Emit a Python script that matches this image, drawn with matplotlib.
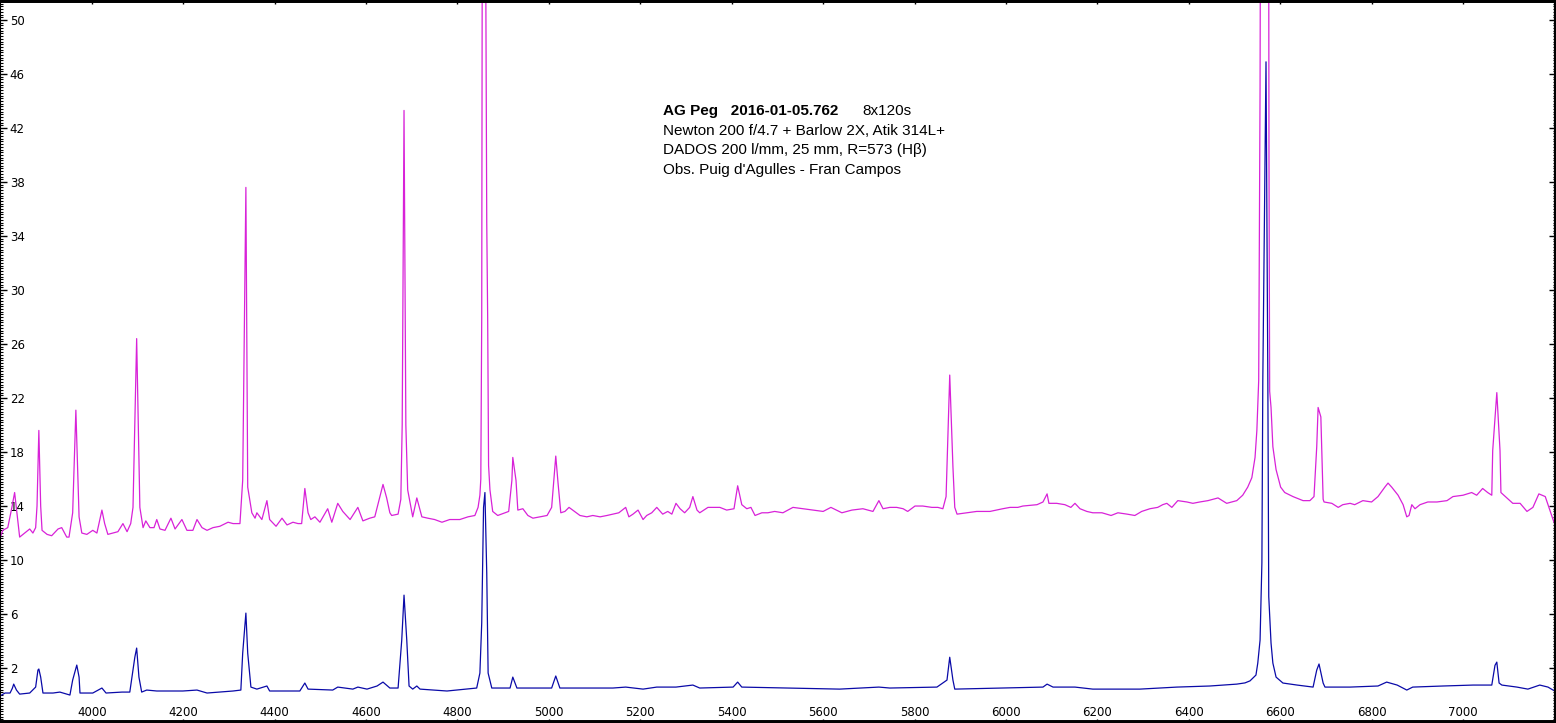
import matplotlib
matplotlib.use("Agg")
import matplotlib.pyplot as plt
from matplotlib.ticker import MultipleLocator

# AG Peg spectrum
wl_mag = [3799, 3805, 3816, 3825, 3831, 3836, 3842, 3853, 3864, 3871, 3877, 3880, 3884, 3888, 3891,
          3902, 3912, 3926, 3934, 3945, 3950, 3958, 3965, 3972, 3978, 3989, 4002, 4011, 4022, 4028,
          4035, 4046, 4057, 4068, 4077, 4085, 4090, 4098, 4105, 4112, 4118, 4127, 4136, 4142, 4149,
          4160, 4173, 4182, 4197, 4208, 4221, 4230, 4241, 4252, 4265, 4280, 4298, 4309, 4324, 4330,
          4337, 4341, 4350, 4357, 4361, 4372, 4383, 4389, 4403, 4416, 4427, 4440, 4451, 4459, 4466,
          4473, 4479, 4488, 4499, 4516, 4525, 4538, 4549, 4565, 4582, 4593, 4608, 4619, 4628, 4637,
          4645, 4652, 4656, 4670, 4676, 4679, 4683, 4687, 4691, 4702, 4711, 4722, 4735, 4750, 4766,
          4783, 4805, 4823, 4838, 4845, 4849, 4851, 4853, 4854, 4858, 4862, 4864, 4866, 4868, 4871,
          4877, 4888, 4904, 4912, 4919, 4921, 4928, 4932, 4943, 4954, 4965, 4980, 4996, 5006, 5015,
          5020, 5026, 5035, 5044, 5052, 5068, 5083, 5096, 5112, 5127, 5140, 5153, 5168, 5175, 5184,
          5195, 5206, 5214, 5225, 5236, 5249, 5260, 5269, 5278, 5287, 5297, 5308, 5315, 5324, 5330,
          5348, 5359, 5374, 5389, 5405, 5413, 5422, 5433, 5442, 5451, 5466, 5479, 5494, 5512, 5534,
          5556, 5578, 5600, 5617, 5641, 5663, 5687, 5709, 5722, 5731, 5746, 5761, 5775, 5785, 5801,
          5818, 5838, 5851, 5862, 5869, 5871, 5877, 5884, 5888, 5893, 5914, 5936, 5965, 5993, 6009,
          6026, 6037, 6068, 6081, 6090, 6094, 6111, 6129, 6142, 6151, 6162, 6177, 6190, 6210, 6230,
          6245, 6265, 6282, 6297, 6315, 6332, 6343, 6352, 6363, 6376, 6396, 6409, 6424, 6442, 6464,
          6483, 6505, 6518, 6529, 6538, 6545, 6549, 6553, 6556, 6559, 6566, 6572, 6574, 6575.5, 6577,
          6580, 6584, 6591, 6601, 6610, 6628, 6650, 6665, 6674, 6680, 6683, 6689, 6694, 6696, 6713,
          6727, 6737, 6753, 6763, 6781, 6800, 6814, 6829, 6836, 6844, 6858, 6869, 6877, 6882, 6888,
          6895, 6906, 6923, 6943, 6965, 6978, 7000, 7019, 7030, 7043, 7054, 7063, 7065, 7074, 7081,
          7083, 7096, 7109, 7125, 7140, 7153, 7166, 7180, 7188, 7197, 7204]
fl_mag = [11.6, 12.2, 12.4, 13.9, 15.0, 13.5, 11.7, 12.0, 12.3, 12.0, 12.4, 14.0, 19.6, 14.0, 12.2,
          11.9, 11.8, 12.3, 12.4, 11.7, 11.7, 13.5, 21.1, 13.2, 12.0, 11.9, 12.2, 12.0, 13.7, 12.7,
          11.9, 12.0, 12.1, 12.7, 12.1, 12.7, 13.9, 26.4, 13.9, 12.4, 12.9, 12.4, 12.4, 13.0, 12.3,
          12.2, 13.1, 12.3, 13.0, 12.2, 12.2, 13.0, 12.4, 12.2, 12.4, 12.5, 12.8, 12.7, 12.7, 15.9,
          37.6, 15.4, 13.5, 13.1, 13.5, 13.0, 14.4, 13.0, 12.5, 13.1, 12.6, 12.8, 12.7, 12.7, 15.3,
          13.5, 13.0, 13.2, 12.8, 13.8, 12.8, 14.2, 13.6, 13.0, 13.9, 12.9, 13.1, 13.2, 14.4, 15.6,
          14.6, 13.5, 13.3, 13.4, 14.5, 20.0, 43.3, 20.0, 15.2, 13.2, 14.6, 13.2, 13.1, 13.0, 12.8,
          13.0, 13.0, 13.2, 13.3, 13.9, 14.8, 16.0, 28.0, 52.0, 80.0, 52.0, 35.0, 28.0, 17.0, 15.2,
          13.6, 13.3, 13.5, 13.6, 15.9, 17.6, 15.9, 13.7, 13.8, 13.3, 13.1, 13.2, 13.3, 13.9, 17.7,
          15.7, 13.5, 13.6, 13.9, 13.7, 13.3, 13.2, 13.3, 13.2, 13.3, 13.4, 13.5, 13.9, 13.2, 13.4,
          13.7, 13.0, 13.3, 13.5, 13.9, 13.4, 13.6, 13.4, 14.2, 13.8, 13.5, 13.9, 14.7, 13.7, 13.5,
          13.9, 13.9, 13.9, 13.7, 13.8, 15.5, 14.1, 13.8, 13.9, 13.3, 13.5, 13.5, 13.6, 13.5, 13.9,
          13.8, 13.7, 13.6, 13.9, 13.5, 13.7, 13.8, 13.6, 14.4, 13.8, 13.9, 13.9, 13.8, 13.6, 14.0,
          14.0, 13.9, 13.9, 13.8, 14.7, 16.9, 23.7, 16.9, 13.9, 13.4, 13.5, 13.6, 13.6, 13.8, 13.9,
          13.9, 14.0, 14.1, 14.3, 14.9, 14.2, 14.2, 14.1, 13.9, 14.2, 13.8, 13.6, 13.5, 13.5, 13.3,
          13.5, 13.4, 13.3, 13.6, 13.8, 13.9, 14.1, 14.2, 13.9, 14.4, 14.3, 14.2, 14.3, 14.4, 14.6,
          14.2, 14.4, 14.8, 15.4, 16.1, 17.6, 19.6, 23.3, 45.0, 90.0, 210.0, 150.0, 80.0, 40.0, 22.5,
          21.3, 18.4, 16.7, 15.4, 15.0, 14.7, 14.4, 14.4, 14.7, 18.4, 21.3, 20.6, 14.5, 14.3, 14.2,
          13.9, 14.1, 14.2, 14.1, 14.4, 14.3, 14.7, 15.4, 15.7, 15.4, 14.8, 14.1, 13.2, 13.3, 14.1,
          13.8, 14.1, 14.3, 14.3, 14.4, 14.7, 14.8, 15.0, 14.8, 15.3, 15.0, 14.8, 18.1, 22.4, 18.1,
          15.0, 14.6, 14.2, 14.2, 13.6, 13.9, 14.9, 14.7, 13.9, 13.0, 12.4]

wl_blue = [3799, 3810, 3821, 3826, 3829, 3835, 3842, 3864, 3877, 3882, 3884, 3888, 3893, 3915, 3930,
           3952, 3958, 3967, 3972, 3974, 4002, 4022, 4031, 4066, 4083, 4094, 4098, 4103, 4109, 4120,
           4142, 4173, 4199, 4230, 4252, 4309, 4326, 4330, 4337, 4341, 4348, 4361, 4383, 4389, 4455,
           4466, 4473, 4527, 4538, 4571, 4582, 4602, 4624, 4637, 4652, 4670, 4678, 4683, 4689, 4694,
           4702, 4711, 4718, 4777, 4842, 4849, 4853, 4857, 4860, 4864, 4867, 4875, 4915, 4921, 4930,
           5006, 5015, 5024, 5140, 5168, 5206, 5236, 5278, 5315, 5330, 5403, 5413, 5422, 5527, 5636,
           5722, 5746, 5849, 5871, 5877, 5884, 5888, 5993, 6081, 6090, 6103, 6151, 6190, 6293, 6374,
           6446, 6505, 6523, 6534, 6547, 6551, 6556, 6560, 6562, 6569, 6573, 6575, 6580, 6584, 6591,
           6606, 6637, 6672, 6680, 6685, 6694, 6698, 6753, 6814, 6833, 6856, 6877, 6890, 6956, 7022,
           7063, 7070, 7074, 7079, 7085, 7118, 7142, 7168, 7186, 7197, 7204]
fl_blue = [-0.07, 0.15, 0.15, 0.5, 0.81, 0.37, 0.07, 0.15, 0.59, 1.85, 1.93, 1.33, 0.15, 0.15, 0.22,
           0.0, 1.11, 2.22, 1.33, 0.15, 0.15, 0.52, 0.15, 0.22, 0.22, 2.8, 3.48, 1.33, 0.22, 0.37,
           0.30, 0.30, 0.30, 0.37, 0.15, 0.30, 0.37, 3.1, 6.07, 3.1, 0.59, 0.44, 0.67, 0.30, 0.30,
           0.89, 0.44, 0.37, 0.59, 0.44, 0.59, 0.44, 0.67, 0.96, 0.52, 0.52, 4.07, 7.4, 4.07, 0.67,
           0.44, 0.67, 0.44, 0.30, 0.52, 1.63, 5.33, 13.9, 15.0, 9.04, 1.63, 0.52, 0.52, 1.33, 0.52,
           0.52, 1.41, 0.52, 0.52, 0.59, 0.44, 0.59, 0.59, 0.74, 0.52, 0.59, 0.96, 0.59, 0.52, 0.44,
           0.59, 0.52, 0.59, 1.11, 2.8, 1.11, 0.44, 0.52, 0.59, 0.81, 0.59, 0.59, 0.44, 0.44, 0.59,
           0.67, 0.81, 0.9, 1.05, 1.48, 2.37, 4.07, 9.8, 23.3, 46.9, 23.3, 7.3, 3.85, 2.37, 1.33,
           0.89, 0.74, 0.59, 1.85, 2.3, 0.89, 0.59, 0.59, 0.67, 0.96, 0.74, 0.37, 0.59, 0.67, 0.74,
           0.74, 2.2, 2.44, 0.89, 0.74, 0.59, 0.44, 0.74, 0.59, 0.37, 0.3]

xticks = list(range(4000, 7001, 200))
yticks = list(range(2, 51, 4))

title_bold = "AG Peg   2016-01-05.762"
title_exp = "8x120s"
info_lines = ["Newton 200 f/4.7 + Barlow 2X, Atik 314L+",
              "DADOS 200 l/mm, 25 mm, R=573 (H\u03b2)",
              "Obs. Puig d'Agulles - Fran Campos"]

fig = plt.figure(figsize=(15.56, 7.23), dpi=100)
ax = fig.add_axes([0, 0, 1, 1])

ax.plot(wl_mag, fl_mag, color="#d822d8", lw=0.9)
ax.plot(wl_blue, fl_blue, color="#0a0aa8", lw=0.9)

ax.set_xlim(3799, 7203.5)
ax.set_ylim(-2.07, 51.48)

ax.set_xticks(xticks)
ax.set_yticks(yticks)
ax.yaxis.set_minor_locator(MultipleLocator(0.2))

ax.tick_params(axis="x", which="major", direction="in", length=3, width=1,
               top=True, bottom=True, labelsize=8.5, pad=-12.5)
ax.tick_params(axis="y", which="major", direction="in", length=5, width=1,
               left=True, right=True, labelsize=8.5, pad=-7)
ax.tick_params(axis="y", which="minor", direction="in", length=2.2, width=0.8,
               left=True, right=True)
ax.tick_params(axis="x", which="minor", bottom=False, top=False)
for lab in ax.get_yticklabels():
    lab.set_horizontalalignment("left")

ax.spines["top"].set_linewidth(4.3)
ax.spines["bottom"].set_linewidth(5)
ax.spines["left"].set_linewidth(1.5)
ax.spines["right"].set_linewidth(3)

fam = ["Liberation Sans", "DejaVu Sans"]
fig.text(663 / 1556, 1 - 115 / 723, title_bold, fontsize=11, fontweight="bold",
         family=fam, va="baseline")
fig.text(862 / 1556, 1 - 115 / 723, title_exp, fontsize=11, family=fam, va="baseline")
for i, line in enumerate(info_lines):
    fig.text(663 / 1556, 1 - (135 + 19.3 * i) / 723, line, fontsize=11,
             family=fam, va="baseline")

fig.savefig("out.png", dpi=100)
